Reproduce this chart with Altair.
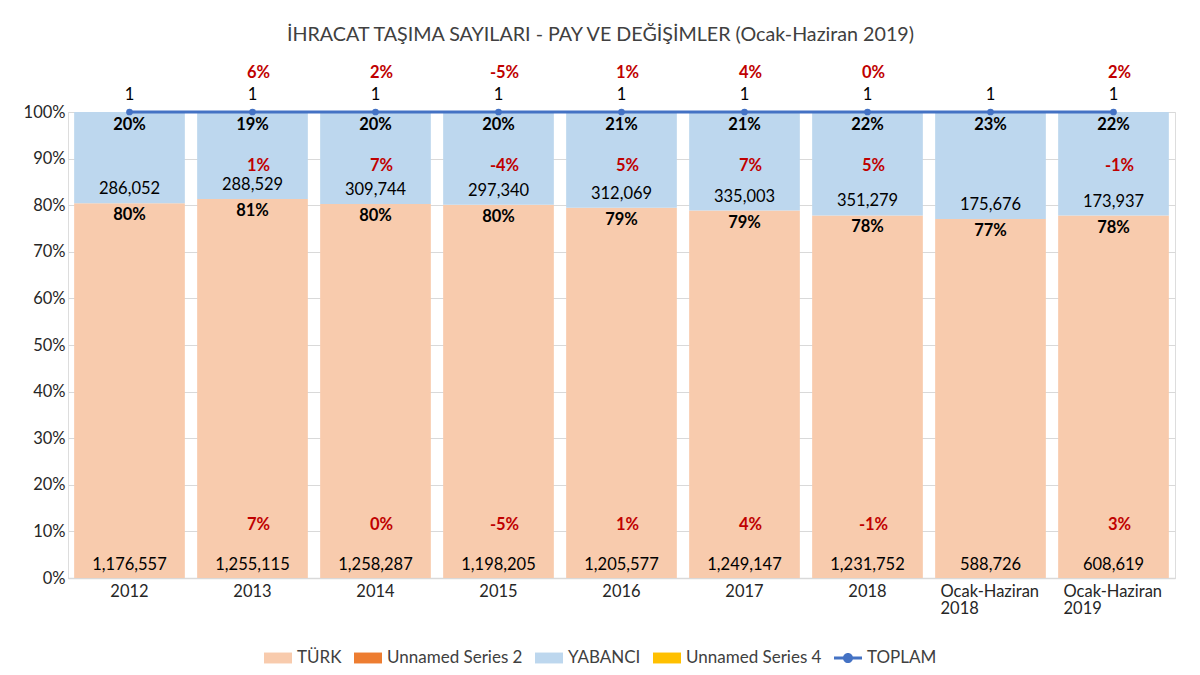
import altair as alt
import pandas as pd

categories = ["2012", "2013", "2014", "2015", "2016", "2017", "2018",
              "Ocak-Haziran 2018", "Ocak-Haziran 2019"]
turk = [1176557, 1255115, 1258287, 1198205, 1205577, 1249147, 1231752, 588726, 608619]
yabanci = [286052, 288529, 309744, 297340, 312069, 335003, 351279, 175676, 173937]
toplam = [1, 1, 1, 1, 1, 1, 1, 1, 1]
toplam_chg = ["", "6%", "2%", "-5%", "1%", "4%", "0%", "", "2%"]
yabanci_chg = ["", "1%", "7%", "-4%", "5%", "7%", "5%", "", "-1%"]
turk_chg = ["", "7%", "0%", "-5%", "1%", "4%", "-1%", "", "3%"]

series_names = ["TÜRK", "Unnamed Series 2", "YABANCI", "Unnamed Series 4", "TOPLAM"]
series_colors = ["#F8CBAD", "#ED7D31", "#BDD7EE", "#FFC000", "#4472C4"]
rect_path = "M-1,-0.39H1V0.39H-1Z"
line_dot_path = ("M-1,-0.11H1V0.11H-1Z "
                 "M0.36,0A0.36,0.36 0 1,1 -0.36,0A0.36,0.36 0 1,1 0.36,0Z")
series_shapes = [rect_path, rect_path, rect_path, rect_path, line_dot_path]

FONT = "Lato"
FS = 16.5
RED = "#C00000"

bar_rows = []
for c, t, y in zip(categories, turk, yabanci):
    bar_rows.append({"cat": c, "series": "TÜRK", "value": t, "ord": 0})
    bar_rows.append({"cat": c, "series": "YABANCI", "value": y, "ord": 1})
bar_df = pd.DataFrame(bar_rows)

wide_df = pd.DataFrame({
    "cat": categories, "turk": turk, "yabanci": yabanci, "toplam": toplam,
    "toplam_chg": toplam_chg, "yabanci_chg": yabanci_chg, "turk_chg": turk_chg,
})

x_enc = alt.X(
    "cat:N", sort=categories, title=None,
    scale=alt.Scale(paddingInner=0.1, paddingOuter=0.05),
    axis=alt.Axis(
        labelAngle=0, labelFont=FONT, labelFontSize=FS, labelColor="#262626",
        labelPadding=5, ticks=False, domainColor="#D9D9D9", domainWidth=1.3,
        labelExpr="indexof(datum.value, 'Ocak') == 0 ? split(datum.value, ' ') : datum.value",
        labelAlign={"condition": {"test": "indexof(datum.value, 'Ocak') == 0", "value": "left"},
                    "value": "center"},
        labelOffset={"condition": {"test": "indexof(datum.value, 'Ocak') == 0", "value": -50},
                     "value": 0},
        labelLineHeight=17,
    ),
)
yscale = alt.Scale(domain=[0, 1])


def make_legend():
    return alt.Legend(
        title=None, orient="none", legendX=196, legendY=532, direction="horizontal",
        labelFont=FONT, labelFontSize=17, labelColor="#404040",
        symbolSize=784, symbolStrokeWidth=0, symbolOpacity=1, labelOffset=5,
        columnPadding=12,
    )


bars = alt.Chart(bar_df).mark_bar().encode(
    x=x_enc,
    y=alt.Y("value:Q", stack="normalize", scale=yscale, title=None,
            axis=alt.Axis(format=".0%", values=[i / 10 for i in range(11)],
                          labelFont=FONT, labelFontSize=FS, labelColor="#262626",
                          ticks=False, domain=False, gridColor="#D9D9D9",
                          labelPadding=3)),
    color=alt.Color("series:N", scale=alt.Scale(domain=series_names, range=series_colors),
                    legend=make_legend()),
    order=alt.Order("ord:Q"),
)

legend_dummy = alt.Chart(bar_df).transform_filter("false").mark_point(
    filled=True, opacity=1
).encode(
    x=alt.X("cat:N", sort=categories),
    y=alt.Y("value:Q"),
    color=alt.Color("series:N", scale=alt.Scale(domain=series_names, range=series_colors),
                    legend=make_legend()),
    shape=alt.Shape("series:N", scale=alt.Scale(domain=series_names, range=series_shapes),
                    legend=make_legend()),
)

base = alt.Chart(wide_df).transform_calculate(
    turk_share="datum.turk / (datum.turk + datum.yabanci)",
    yab_share="datum.yabanci / (datum.turk + datum.yabanci)",
)

line = base.mark_line(color="#4472C4", strokeWidth=3).encode(
    x=alt.X("cat:N", sort=categories), y=alt.Y("toplam:Q", scale=yscale))
pts = base.mark_point(filled=True, color="#4472C4", opacity=1, size=45).encode(
    x=alt.X("cat:N", sort=categories), y=alt.Y("toplam:Q", scale=yscale))


def txt(y, text, dy, bold=False, color="#000000", dx=0, fmt=None):
    mark = base.mark_text(font=FONT, fontSize=FS, fontWeight="bold" if bold else "normal",
                          color=color, dy=dy, dx=dx, baseline="middle")
    t = alt.Text(text, format=fmt) if fmt else alt.Text(text)
    return mark.encode(x=alt.X("cat:N", sort=categories), y=y, text=t)


turk_count = txt(alt.datum(0), "turk:Q", -13, fmt=",")
turk_pct = txt(alt.Y("turk_share:Q", scale=yscale), "turk_share:Q", 12, bold=True, fmt=".0%")
yab_count = txt(alt.Y("turk_share:Q", scale=yscale), "yabanci:Q", -14, fmt=",")
yab_pct = txt(alt.datum(1), "yab_share:Q", 13, bold=True, fmt=".0%")
yab_chg_t = txt(alt.datum(1), "yabanci_chg:N", 54, bold=True, color=RED, dx=6)
turk_chg_t = txt(alt.datum(0), "turk_chg:N", -53, bold=True, color=RED, dx=6)
top_lbl = txt(alt.Y("toplam:Q", scale=yscale), "toplam:Q", -17)
top_chg_t = txt(alt.datum(1), "toplam_chg:N", -39, bold=True, color=RED, dx=6)

chart = alt.layer(
    bars, legend_dummy, line, pts,
    turk_count, turk_pct, yab_count, yab_pct, yab_chg_t, turk_chg_t, top_lbl, top_chg_t,
).properties(
    width=1107, height=466,
    autosize=alt.AutoSizeParams(type="none"),
    padding={"left": 60, "top": 104, "right": 17, "bottom": 89},
    title=alt.TitleParams(
        "İHRACAT TAŞIMA SAYILARI - PAY VE DEĞİŞİMLER (Ocak-Haziran 2019)",
        font=FONT, fontSize=19.7, fontWeight="normal", color="#404040",
        anchor="middle", offset=20, dx=-21,
    ),
).configure_view(stroke=None).configure(background="white")

chart.save("out.html", embed_options={"renderer": "svg", "actions": False})
